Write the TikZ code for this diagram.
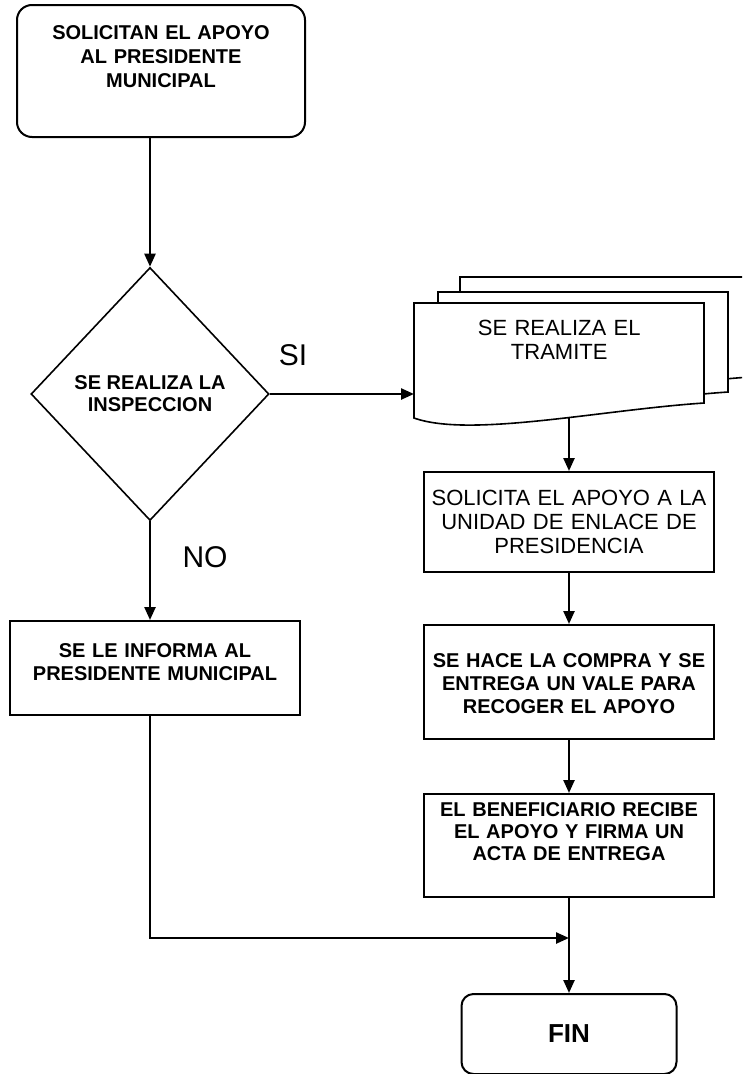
\documentclass[tikz,border=0pt]{standalone}
\usepackage{fontspec}
\setmainfont{Liberation Sans}
\usetikzlibrary{shapes.geometric, arrows.meta, positioning, calc}

\begin{document}
\begin{tikzpicture}[x=1pt, y=-1pt, node distance=50pt]
    % Estilos
    \tikzstyle{startstop} = [rectangle, rounded corners=12pt, draw=black, line width=2pt, inner sep=0pt, align=center, font=\bfseries\fontsize{20}{24}\selectfont]
    \tikzstyle{process} = [rectangle, draw=black, line width=2pt, inner sep=0pt, minimum width=290pt, text width=290pt, align=center, font=\bfseries\fontsize{20}{23}\selectfont]
    \tikzstyle{decision} = [diamond, draw=black, line width=1.6pt, inner sep=0pt, minimum width=238pt, minimum height=253pt, align=center, font=\bfseries\fontsize{20}{22}\selectfont]
    \tikzstyle{doc} = [fill=white, draw=black, line width=1.6pt]
    \tikzstyle{doctext} = [inner sep=0pt, text width=290pt, align=center, font=\fontsize{22}{24}\selectfont]
    \tikzstyle{answer} = [font=\fontsize{30}{30}\selectfont]
    \tikzstyle{arrow} = [line width=2.4pt, -{Triangle[length=13pt, width=11pt]}]

    \useasboundingbox (0,0) rectangle (742,1074);
    \clip (0,0) rectangle (742,1074);

    % Nodos
    \node (ini) [startstop, rounded corners=15pt, minimum width=288pt, text width=288pt, text height=34pt, text depth=98pt] at (161,71) {SOLICITAN EL APOYO\\AL PRESIDENTE\\MUNICIPAL};
    \node (dec) [decision] at (150,394) {SE REALIZA LA\\INSPECCION};
    \node (inf) [process, text height=36pt, text depth=58pt] at (155,668) {SE LE INFORMA AL\\PRESIDENTE MUNICIPAL};

    % Documentos
    \coordinate (docnw) at (414,303);
    \foreach \dx/\dy in {46/-26, 24/-11, 0/0}
        \draw [doc] ($(docnw)+(\dx,\dy)$) -- ++(290,0) -- ++(0,100) .. controls +(-104,7) and +(56,20) .. ++(-290,15) -- cycle;
    \node (tram) [doctext, anchor=north west, text height=32pt, text depth=82pt] at (docnw) {SE REALIZA EL\\TRAMITE};

    \node (sol) [process, font=\fontsize{22}{24}\selectfont, text height=33pt, text depth=67pt] at (569,522) {SOLICITA EL APOYO A LA\\UNIDAD DE ENLACE DE\\PRESIDENCIA};
    \node (com) [process, below=51pt of sol, text height=42pt, text depth=72pt] {SE HACE LA COMPRA Y SE\\ENTREGA UN VALE PARA\\RECOGER EL APOYO};
    \node (ben) [process, below=53pt of com, text height=22pt, text depth=81pt, font=\bfseries\fontsize{20}{22}\selectfont] {EL BENEFICIARIO RECIBE\\EL APOYO Y FIRMA UN\\ACTA DE ENTREGA};
    \node (fin) [startstop, below=95pt of ben, minimum width=215pt, minimum height=80pt, font=\bfseries\fontsize{26}{26}\selectfont] {FIN};

    \node (si) [answer] at (293,355) {SI};
    \node (no) [answer] at (205,557) {NO};

    % Flechas
    \draw [arrow] (ini.south -| dec.north) -- (dec.north);
    \draw [arrow] (dec.east) -- (dec.east -| tram.west);
    \draw [arrow] (dec.south) -- (inf.north -| dec.south);
    \draw [arrow] (tram.south -| sol.north) -- (sol.north);
    \draw [arrow] (sol) -- (com);
    \draw [arrow] (com) -- (ben);
    \draw [arrow] (ben) -- (fin);

    % Union de ramas
    \path (ben.south) ++(0,40) coordinate (join);
    \draw [arrow] (inf.south -| dec.south) |- (join);

\end{tikzpicture}
\end{document}
